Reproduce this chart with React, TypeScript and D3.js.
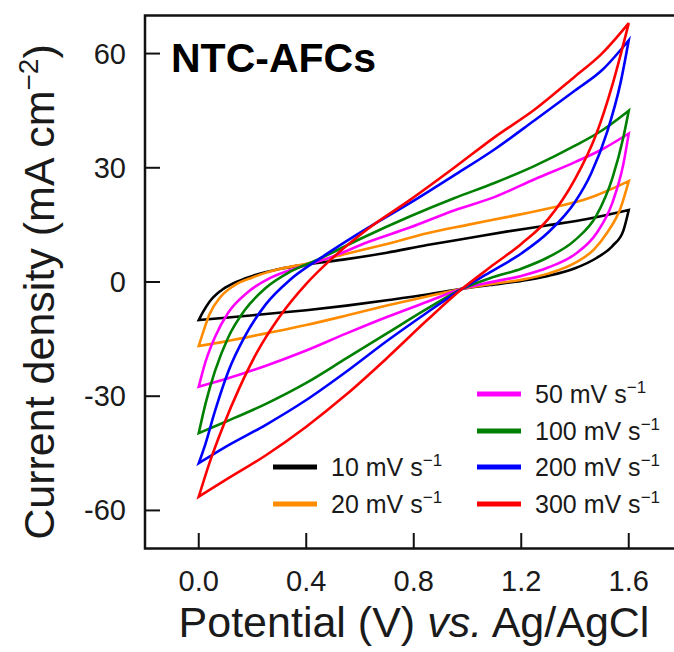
import React from 'react';
import * as d3 from 'd3';

type Pt = [number, number];

// Scan rates (mV s^-1) and axis ticks
const scanRates = [10, 20, 50, 100, 200, 300];
const xTicks = [0, 0.4, 0.8, 1.2, 1.6];
const yTicks = [-60, -30, 0, 30, 60];

// Each CV loop: anodic (upper) and cathodic (lower) branch, stored with rising potential [V, mA cm^-2]
const anodic10: Pt[] = [[0, -10], [0.015, -8], [0.04, -5.2], [0.08, -2.4], [0.13, -0.3], [0.2, 1.6], [0.3, 3.4], [0.4, 4.6], [0.55, 6], [0.7, 7.7], [0.85, 9.7], [1.0, 11.5], [1.15, 13.3], [1.3, 14.9], [1.45, 16.6], [1.6, 18.9]];
const cathodic10: Pt[] = [[0, -10], [0.1, -9.4], [0.25, -8.4], [0.4, -7.4], [0.55, -6.2], [0.7, -4.8], [0.85, -3.3], [0.98, -1.8], [1.083, -0.8], [1.2, 0.3], [1.3, 1.6], [1.4, 3.6], [1.48, 6.3], [1.54, 9.5], [1.58, 13.5], [1.6, 18.9]];

const anodic20: Pt[] = [[0, -16.8], [0.015, -13.5], [0.04, -8.5], [0.08, -4], [0.13, -1], [0.2, 1.2], [0.3, 3.4], [0.4, 4.8], [0.55, 7.4], [0.7, 10], [0.85, 12.8], [1.0, 15], [1.15, 17.1], [1.3, 19.3], [1.45, 22], [1.6, 26.5]];
const cathodic20: Pt[] = [[0, -16.8], [0.1, -15.6], [0.25, -13.5], [0.4, -11.3], [0.55, -8.8], [0.7, -6.2], [0.85, -3.8], [0.98, -1.8], [1.083, -0.6], [1.2, 0.6], [1.3, 2.2], [1.4, 5], [1.47, 8.5], [1.52, 13], [1.57, 19.5], [1.6, 26.5]];

const anodic50: Pt[] = [[0, -27.5], [0.025, -21], [0.06, -14.5], [0.11, -8], [0.18, -2.8], [0.27, 1.2], [0.37, 3.8], [0.48, 6.2], [0.63, 10.5], [0.785, 14.3], [0.95, 18.8], [1.1, 22.3], [1.25, 27], [1.4, 31.5], [1.5, 34.8], [1.6, 39]];
const cathodic50: Pt[] = [[0, -27.5], [0.1, -25.5], [0.25, -22], [0.4, -18], [0.55, -13.5], [0.7, -9.2], [0.85, -5.2], [0.98, -1.8], [1.083, -0.1], [1.2, 1.6], [1.3, 3.8], [1.4, 7.3], [1.48, 12.8], [1.54, 21], [1.58, 31], [1.6, 39]];

const anodic100: Pt[] = [[0, -39.7], [0.025, -32], [0.06, -23.5], [0.11, -14.5], [0.17, -7.5], [0.25, -1.5], [0.34, 2.7], [0.44, 5.8], [0.6, 11.3], [0.785, 17.2], [0.95, 22], [1.1, 26], [1.25, 30.5], [1.4, 35.8], [1.5, 39.8], [1.6, 45]];
const cathodic100: Pt[] = [[0, -39.7], [0.1, -36.7], [0.25, -32], [0.4, -26.5], [0.55, -20], [0.7, -13.5], [0.85, -7], [0.98, -1.8], [1.083, 1], [1.2, 3.5], [1.3, 6.5], [1.4, 11], [1.48, 17.5], [1.54, 27.5], [1.58, 38], [1.6, 45]];

const anodic200: Pt[] = [[0, -47.6], [0.025, -42.5], [0.06, -34], [0.11, -23.5], [0.17, -14.5], [0.25, -5.8], [0.34, 0.6], [0.46, 6.6], [0.62, 13.8], [0.785, 20.7], [0.95, 28], [1.1, 34.8], [1.25, 42.5], [1.4, 50.3], [1.5, 55.6], [1.6, 63.5]];
const cathodic200: Pt[] = [[0, -47.6], [0.1, -43.3], [0.25, -37.5], [0.4, -31], [0.55, -23.5], [0.7, -15.5], [0.85, -8], [0.98, -1.8], [1.083, 2.5], [1.2, 7.5], [1.3, 13], [1.4, 21], [1.46, 28.5], [1.52, 39.5], [1.57, 52.5], [1.6, 63.5]];

const anodic300: Pt[] = [[0, -56.4], [0.04, -47.5], [0.09, -38], [0.15, -28], [0.215, -18.7], [0.3, -9.2], [0.4, -0.5], [0.49, 5.8], [0.63, 14], [0.785, 21.5], [0.95, 30], [1.1, 38], [1.25, 45.3], [1.4, 54], [1.5, 60], [1.6, 68]];
const cathodic300: Pt[] = [[0, -56.4], [0.1, -52], [0.25, -45.5], [0.4, -38], [0.55, -29.5], [0.7, -20], [0.85, -10], [0.98, -1.8], [1.083, 3.8], [1.2, 10], [1.3, 16.5], [1.4, 27], [1.48, 39], [1.54, 52], [1.6, 68]];

const anodicBranches = [anodic10, anodic20, anodic50, anodic100, anodic200, anodic300];
const cathodicBranches = [cathodic10, cathodic20, cathodic50, cathodic100, cathodic200, cathodic300];

// Legend layout: two columns of scan rates
const legendLeft = [10, 20];
const legendRight = [50, 100, 200, 300];

const seriesColors = ['#000000', '#ff8c00', '#ff00ff', '#008000', '#0000ff', '#ff0000'];

const W = 674;
const H = 652;
const FONT = '"Liberation Sans", Arial, Helvetica, sans-serif';

export default function App() {
  const x = d3.scaleLinear().domain([-0.2, 1.8]).range([145, 682.5]);
  const y = d3.scaleLinear().domain([-70, 70]).range([548.5, 15.5]);

  const line = d3
    .line<Pt>()
    .x((d) => x(d[0]))
    .y((d) => y(d[1]))
    .curve(d3.curveMonotoneX);

  const loopPath = (i: number) => {
    const up = line(anodicBranches[i]) || '';
    const down = (line([...cathodicBranches[i]].reverse()) || '').replace(/^M/, 'L');
    return up + down + 'Z';
  };

  const colorOf = (rate: number) => seriesColors[scanRates.indexOf(rate)];

  const legendItem = (rate: number, lx: number, ly: number) => (
    <g key={rate}>
      <line x1={lx} x2={lx + 44} y1={ly} y2={ly} stroke={colorOf(rate)} strokeWidth={5} />
      <text x={lx + 58} y={ly + 9} fontSize={25} fontFamily={FONT} fill="#1a1a1a">
        {rate} mV s
        <tspan dy={-10} fontSize={17}>−1</tspan>
      </text>
    </g>
  );

  const rightRows = [394, 431, 467, 504];
  const leftRows = [467, 504];

  return (
    <svg
      width={W}
      height={H}
      viewBox={`0 0 ${W} ${H}`}
      style={{ position: 'absolute', left: 0, top: 0, background: '#fff' }}
    >
      <rect x={0} y={0} width={W} height={H} fill="#fff" />

      {/* CV loops, slowest scan drawn first */}
      <g fill="none" strokeWidth={2.6} strokeLinejoin="miter">
        {scanRates.map((r, i) => (
          <path key={r} d={loopPath(i)} stroke={seriesColors[i]} />
        ))}
      </g>

      {/* frame */}
      <rect x={145} y={15.5} width={545} height={533} fill="none" stroke="#111" strokeWidth={2.5} />

      {/* x ticks */}
      {xTicks.map((t) => (
        <g key={`x${t}`}>
          <line x1={x(t)} x2={x(t)} y1={548.5} y2={533} stroke="#111" strokeWidth={2} />
          <text x={x(t)} y={591} textAnchor="middle" fontSize={29} fontFamily={FONT} fill="#1a1a1a">
            {t.toFixed(1)}
          </text>
        </g>
      ))}

      {/* y ticks */}
      {yTicks.map((t) => (
        <g key={`y${t}`}>
          <line x1={145} x2={160} y1={y(t)} y2={y(t)} stroke="#111" strokeWidth={2} />
          <text
            x={126}
            y={y(t) + 10}
            textAnchor="end"
            fontSize={29}
            fontFamily={FONT}
            fill="#1a1a1a"
          >
            {t}
          </text>
        </g>
      ))}

      {/* axis titles */}
      <text x={414} y={637} textAnchor="middle" fontSize={43} fontFamily={FONT} fill="#1a1a1a">
        Potential (V) <tspan fontStyle="italic">vs.</tspan> Ag/AgCl
      </text>
      <text
        transform={`translate(54, 292) rotate(-90)`}
        textAnchor="middle"
        fontSize={43}
        fontFamily={FONT}
        fill="#1a1a1a"
      >
        Current density (mA cm
        <tspan dy={-16} fontSize={28}>−2</tspan>
        <tspan dy={16}>)</tspan>
      </text>

      {/* sample label */}
      <text x={171} y={72} fontSize={41} fontWeight="bold" fontFamily={FONT} fill="#000">
        NTC-AFCs
      </text>

      {/* legend */}
      {legendLeft.map((r, i) => legendItem(r, 273, leftRows[i]))}
      {legendRight.map((r, i) => legendItem(r, 477, rightRows[i]))}
    </svg>
  );
}
